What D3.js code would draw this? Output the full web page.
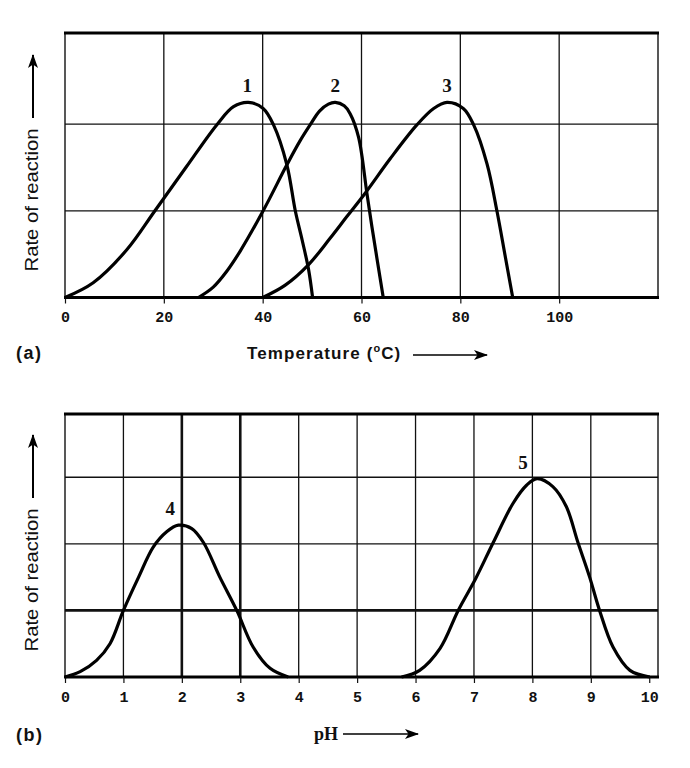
<!DOCTYPE html>
<html lang='en'>
    <head>
        <meta charset="utf-8">
        <title>Enzyme activity: temperature and pH</title>
        <script src='https://d3js.org/d3.v7.min.js'></script>
        <style>
            body { margin: 0; background: #fff; }
        </style>
    </head>
    <body>
        <script type='text/javascript'>
            var w = 690;
            var h = 768;

            // (a) temperature curves, [temp in degC, rate]
            var enzyme1 = [[0,0],[5.7,0.17],[12.5,0.55],[18.2,1.0],[24.6,1.51],[30.7,1.99],[34.1,2.2],[37.1,2.25],
                           [40.1,2.18],[42.2,1.99],[44.9,1.53],[46.6,1.0],[48.0,0.66],[49.3,0.32],[50.1,0]];
            var enzyme2 = [[27.0,0],[30.0,0.12],[32.7,0.3],[35.4,0.53],[40.1,1.0],[44.9,1.53],[47.5,1.8],[49.6,1.99],
                           [51.5,2.15],[53.3,2.23],[54.7,2.25],[56.5,2.21],[57.7,2.12],[59.4,1.85],[61.1,1.2],[62.1,0.82],[64.4,0]];
            var enzyme3 = [[40.0,0],[44.5,0.14],[49.3,0.38],[53.6,0.68],[57.0,0.93],[60.7,1.2],[65.8,1.6],
                           [71.2,1.99],[74.6,2.18],[77.3,2.25],[80.6,2.18],[82.7,1.99],[85.4,1.54],[87.4,1.0],[89.1,0.47],[90.6,0]];
            var tempTicks = [0, 20, 40, 60, 80, 100];
            var tempPeakLabels = ['1', '2', '3'];

            // (b) pH curves, [pH, rate]
            var enzyme4 = [[0,0],[0.26,0.08],[0.54,0.25],[0.77,0.5],[1.0,1.0],[1.26,1.5],[1.51,1.95],[1.74,2.18],
                           [1.94,2.28],[2.17,2.23],[2.37,2.02],[2.65,1.5],[2.94,1.0],[3.22,0.45],[3.51,0.13],[3.82,0]];
            var enzyme5 = [[5.76,0],[6.07,0.1],[6.42,0.43],[6.73,1.0],[7.03,1.48],[7.33,2.02],[7.67,2.61],[7.9,2.88],
                           [8.08,2.98],[8.35,2.86],[8.58,2.56],[8.78,2.02],[8.98,1.5],[9.15,1.0],[9.38,0.45],[9.67,0.1],[10.01,0]];
            var phTicks = [0, 1, 2, 3, 4, 5, 6, 7, 8, 9, 10];
            var phGrid = [1, 2, 3, 4, 5, 6, 7, 8, 9];
            var phPeakLabels = ['4', '5'];

            var svg = d3.select('body')
                        .append('svg')
                        .attr('width', w)
                        .attr('height', h);

            var defs = svg.append('defs');
            defs.append('marker')
                .attr('id', 'head')
                .attr('viewBox', '0 0 14 10')
                .attr('refX', 13)
                .attr('refY', 5)
                .attr('markerWidth', 14)
                .attr('markerHeight', 10)
                .attr('markerUnits', 'userSpaceOnUse')
                .attr('orient', 'auto')
                .append('path')
                .attr('d', 'M0,0 L14,5 L0,10 L3.5,5 Z')
                .attr('fill', '#000');

            var line = function(x, y){
                return d3.line()
                    .x(function(d){ return x(d[0]); })
                    .y(function(d){ return y(d[1]); })
                    .curve(d3.curveCatmullRom.alpha(0.5));
            };

            // draws frame, grid, ticks and curves for one panel
            function panel(opt){
                var g = svg.append('g');
                var x = opt.x, y = opt.y;
                var x0 = x.range()[0], x1 = x.range()[1];
                var y0 = y.range()[0], y1 = y.range()[1];

                g.selectAll('.vgrid')
                    .data(opt.vgrid)
                    .enter()
                    .append('line')
                    .attr('x1', function(d){ return x(d); })
                    .attr('x2', function(d){ return x(d); })
                    .attr('y1', y0)
                    .attr('y2', y1)
                    .attr('stroke', '#111')
                    .attr('stroke-width', function(d){ return opt.thickV.indexOf(d) >= 0 ? 2.6 : 1.3; });

                g.selectAll('.hgrid')
                    .data(opt.hgrid)
                    .enter()
                    .append('line')
                    .attr('x1', x0)
                    .attr('x2', x1)
                    .attr('y1', function(d){ return y(d); })
                    .attr('y2', function(d){ return y(d); })
                    .attr('stroke', '#111')
                    .attr('stroke-width', function(d){ return opt.thickH.indexOf(d) >= 0 ? 2.6 : 1.3; });

                // frame: heavy top and bottom, light sides
                g.append('line').attr('x1', x0).attr('x2', x0).attr('y1', y0).attr('y2', y1)
                    .attr('stroke', '#111').attr('stroke-width', 1.4);
                g.append('line').attr('x1', x1).attr('x2', x1).attr('y1', y0).attr('y2', y1)
                    .attr('stroke', '#111').attr('stroke-width', 1.4);
                g.append('line').attr('x1', x0 - 1).attr('x2', x1 + 1).attr('y1', y1).attr('y2', y1)
                    .attr('stroke', '#000').attr('stroke-width', 3);
                g.append('line').attr('x1', x0 - 1).attr('x2', x1 + 1).attr('y1', y0).attr('y2', y0)
                    .attr('stroke', '#000').attr('stroke-width', 3);

                var axis = g.append('g')
                    .attr('transform', 'translate(0,' + y0 + ')')
                    .call(d3.axisBottom(x).tickValues(opt.ticks).tickSize(6).tickPadding(8));
                axis.select('.domain').remove();
                axis.selectAll('.tick line').attr('stroke', '#111').attr('stroke-width', 1.2);
                axis.selectAll('text')
                    .attr('font-family', '"Liberation Mono", "DejaVu Sans Mono", monospace')
                    .attr('font-weight', 'bold')
                    .attr('font-size', '15px')
                    .attr('fill', '#111');

                g.selectAll('.curve')
                    .data(opt.curves)
                    .enter()
                    .append('path')
                    .attr('d', line(x, y))
                    .attr('fill', 'none')
                    .attr('stroke', '#000')
                    .attr('stroke-width', 3.2)
                    .attr('stroke-linejoin', 'round');

                // number above each peak
                g.selectAll('.peak')
                    .data(opt.curves)
                    .enter()
                    .append('text')
                    .text(function(d, i){ return opt.labels[i]; })
                    .attr('x', function(d, i){
                        var p = d3.greatest(d, function(e){ return e[1]; });
                        return x(p[0]) + opt.labelDx[i];
                    })
                    .attr('y', function(d){
                        var p = d3.greatest(d, function(e){ return e[1]; });
                        return y(p[1]) - 10;
                    })
                    .attr('text-anchor', 'middle')
                    .attr('font-family', '"Liberation Serif", "DejaVu Serif", serif')
                    .attr('font-weight', 'bold')
                    .attr('font-size', '19px')
                    .attr('fill', '#111');

                // y-axis title with arrow
                g.append('text')
                    .text('Rate of reaction')
                    .attr('transform', 'translate(38,' + opt.titleY + ') rotate(-90)')
                    .attr('text-anchor', 'middle')
                    .attr('textLength', 143)
                    .attr('lengthAdjust', 'spacingAndGlyphs')
                    .attr('font-family', '"Liberation Sans", Arial, sans-serif')
                    .attr('font-size', '18px')
                    .attr('fill', '#111');
                g.append('line')
                    .attr('x1', 33).attr('x2', 33)
                    .attr('y1', opt.titleY - 82).attr('y2', opt.titleY - 145)
                    .attr('stroke', '#000')
                    .attr('stroke-width', 2)
                    .attr('marker-end', 'url(#head)');

                return g;
            }

            // ---- (a) temperature ----
            var xTemp = d3.scaleLinear().domain([0, 120]).range([65, 658]);
            var yTemp = d3.scaleLinear().domain([0, 3.05]).range([297.5, 33]);
            var ga = panel({
                x: xTemp, y: yTemp,
                vgrid: [20, 40, 60, 80, 100], hgrid: [1, 2],
                thickV: [], thickH: [],
                ticks: tempTicks,
                curves: [enzyme1, enzyme2, enzyme3],
                labels: tempPeakLabels,
                labelDx: [-1, 0, 0],
                titleY: 200
            });

            ga.append('text')
                .text('(a)')
                .attr('x', 16).attr('y', 359)
                .attr('font-family', '"Liberation Sans", Arial, sans-serif')
                .attr('font-weight', 'bold')
                .attr('font-size', '18px')
                .attr('letter-spacing', '1.5px')
                .attr('fill', '#111');

            var tt = ga.append('text')
                .attr('x', 247).attr('y', 359)
                .attr('font-family', '"Liberation Sans", Arial, sans-serif')
                .attr('font-weight', 'bold')
                .attr('font-size', '17px')
                .attr('letter-spacing', '1.1px')
                .attr('fill', '#111');
            tt.append('tspan').text('Temperature (');
            tt.append('tspan').text('o').attr('font-size', '11px').attr('dy', -7);
            tt.append('tspan').text('C)').attr('dy', 7);

            ga.append('line')
                .attr('x1', 413).attr('x2', 487)
                .attr('y1', 355).attr('y2', 355)
                .attr('stroke', '#000').attr('stroke-width', 1.6)
                .attr('marker-end', 'url(#head)');

            // ---- (b) pH ----
            var xPh = d3.scaleLinear().domain([0, 10.15]).range([65, 658]);
            var yPh = d3.scaleLinear().domain([0, 3.95]).range([677, 414]);
            var gb = panel({
                x: xPh, y: yPh,
                vgrid: phGrid, hgrid: [1, 2, 3],
                thickV: [2, 3], thickH: [1],
                ticks: phTicks,
                curves: [enzyme4, enzyme5],
                labels: phPeakLabels,
                labelDx: [-8, -14],
                titleY: 580
            });

            gb.append('text')
                .text('(b)')
                .attr('x', 16).attr('y', 741)
                .attr('font-family', '"Liberation Sans", Arial, sans-serif')
                .attr('font-weight', 'bold')
                .attr('font-size', '18px')
                .attr('letter-spacing', '1.5px')
                .attr('fill', '#111');

            gb.append('text')
                .text('pH')
                .attr('x', 314).attr('y', 740)
                .attr('font-family', '"Liberation Serif", "DejaVu Serif", serif')
                .attr('font-weight', 'bold')
                .attr('font-size', '18px')
                .attr('fill', '#111');

            gb.append('line')
                .attr('x1', 343).attr('x2', 418)
                .attr('y1', 734).attr('y2', 734)
                .attr('stroke', '#000').attr('stroke-width', 1.6)
                .attr('marker-end', 'url(#head)');
        </script>
    </body>
</html>
